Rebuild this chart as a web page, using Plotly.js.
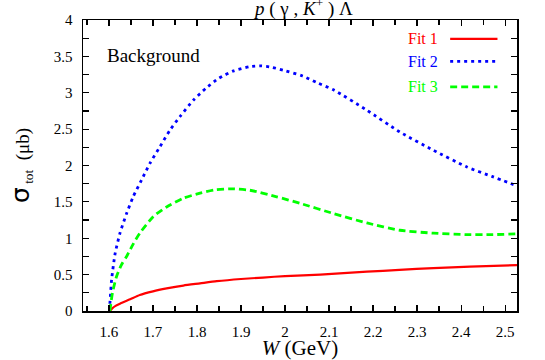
<!DOCTYPE html>
<html>
<head>
<meta charset="utf-8">
<script src="https://cdn.plot.ly/plotly-3.0.1.min.js"></script>
<style>
  html, body { margin: 0; padding: 0; background: #fff; }
  #chart { width: 545px; height: 360px; }
</style>
</head>
<body>
<div id="chart"></div>
<script>
// W (GeV) and sigma_tot (mu b)
const fit1W = [1.602, 1.608, 1.615, 1.625, 1.648, 1.670, 1.700, 1.731, 1.769, 1.807, 1.845, 1.90, 1.95, 2.00, 2.08, 2.186, 2.26, 2.337, 2.42, 2.527];
const fit1S = [0, 0.04, 0.07, 0.10, 0.16, 0.22, 0.27, 0.31, 0.35, 0.38, 0.41, 0.44, 0.46, 0.48, 0.50, 0.54, 0.565, 0.59, 0.61, 0.63];

const fit2W = [1.601, 1.606, 1.614, 1.625, 1.640, 1.655, 1.674, 1.693, 1.716, 1.739, 1.761, 1.792, 1.820, 1.850, 1.883, 1.920, 1.945, 1.970, 1.996, 2.040, 2.072, 2.110, 2.186, 2.261, 2.337, 2.413, 2.470, 2.527];
const fit2S = [0, 0.43, 0.79, 1.07, 1.34, 1.57, 1.80, 2.03, 2.26, 2.49, 2.67, 2.90, 3.06, 3.20, 3.30, 3.36, 3.37, 3.35, 3.31, 3.23, 3.14, 3.04, 2.76, 2.46, 2.21, 1.98, 1.85, 1.72];

const fit3W = [1.602, 1.608, 1.617, 1.628, 1.640, 1.655, 1.670, 1.701, 1.731, 1.769, 1.807, 1.840, 1.875, 1.920, 1.981, 2.034, 2.110, 2.186, 2.261, 2.337, 2.413, 2.470, 2.527];
const fit3S = [0, 0.25, 0.47, 0.63, 0.75, 0.92, 1.07, 1.30, 1.43, 1.55, 1.62, 1.665, 1.68, 1.66, 1.57, 1.48, 1.34, 1.21, 1.11, 1.07, 1.05, 1.05, 1.06];

const fitNames = ['Fit 1', 'Fit 2', 'Fit 3'];
const fitColors = ['#ff0000', '#0000ff', '#00ff00'];
const fitDash = ['solid', '3px,4px', '7px,4px'];

const serif = 'Times New Roman, Liberation Serif, DejaVu Serif, serif';

const traces = [
  [fit1W, fit1S],
  [fit2W, fit2S],
  [fit3W, fit3S],
].map(([w, s], i) => ({
  x: w,
  y: s,
  type: 'scatter',
  mode: 'lines',
  name: fitNames[i],
  line: { color: fitColors[i], width: i === 0 ? 2.2 : 2.8, dash: fitDash[i], shape: 'spline', smoothing: 0.6 },
  showlegend: false,
}));

// hand-made legend: text on the left, line sample on the right
const legendY = [0.935, 0.858, 0.77];
const annotations = fitNames.map((name, i) => ({
  xref: 'paper', yref: 'paper',
  x: 0.823, y: legendY[i],
  xanchor: 'right', yanchor: 'middle',
  text: name,
  showarrow: false,
  font: { family: serif, size: 16, color: fitColors[i] },
}));
const shapes = fitNames.map((name, i) => ({
  type: 'line', xref: 'paper', yref: 'paper',
  x0: 0.846, x1: 0.955, y0: legendY[i], y1: legendY[i],
  line: { color: fitColors[i], width: i === 0 ? 2.2 : 2.8, dash: fitDash[i] },
}));

annotations.push({
  xref: 'paper', yref: 'paper', x: 0.05, y: 0.878,
  xanchor: 'left', yanchor: 'middle',
  text: 'Background', showarrow: false,
  font: { family: serif, size: 19, color: '#000' },
});
annotations.push({
  xref: 'paper', yref: 'paper', x: 0.508, y: 1, yshift: 13,
  xanchor: 'center', yanchor: 'middle',
  text: '<i>p</i> ( γ , <i>K</i><sup>+</sup> ) Λ', showarrow: false,
  font: { family: serif, size: 19, color: '#000' },
});

const axisCommon = {
  showgrid: false,
  zeroline: false,
  showline: true,
  linecolor: '#000',
  linewidth: 1.5,
  mirror: 'ticks',
  ticks: 'inside',
  ticklen: 6,
  tickwidth: 1.2,
  tickcolor: '#000',
  tickfont: { family: serif, size: 15, color: '#000' },
  ticklabelstandoff: 6,
};

const layout = {
  width: 545,
  height: 360,
  margin: { l: 83, r: 28, t: 20, b: 49 },
  paper_bgcolor: '#fff',
  plot_bgcolor: '#fff',
  font: { family: serif },
  xaxis: {
    ...axisCommon,
    range: [1.541, 2.527],
    tickvals: [1.6, 1.7, 1.8, 1.9, 2, 2.1, 2.2, 2.3, 2.4, 2.5],
    ticktext: ['1.6', '1.7', '1.8', '1.9', '2', '2.1', '2.2', '2.3', '2.4', '2.5'],
    minor: { dtick: 0.05, tick0: 1.55, ticks: 'inside', ticklen: 5, tickcolor: '#000', tickwidth: 1.2 },
    title: { text: '<i>W</i> (GeV)', font: { family: serif, size: 21, color: '#000' }, standoff: 2 },
  },
  yaxis: {
    ...axisCommon,
    range: [0, 4],
    dtick: 0.5,
    minor: { dtick: 0.25, ticks: 'inside', ticklen: 6, tickcolor: '#000', tickwidth: 1.2 },
    title: {
      text: '<span style="font-family:DejaVu Sans;font-size:25px">σ</span><sub> tot</sub>  (μb)',
      font: { family: serif, size: 19, color: '#000' },
      standoff: 19,
    },
  },
  annotations,
  shapes,
};

Plotly.newPlot('chart', traces, layout, { staticPlot: true });
</script>
</body>
</html>
